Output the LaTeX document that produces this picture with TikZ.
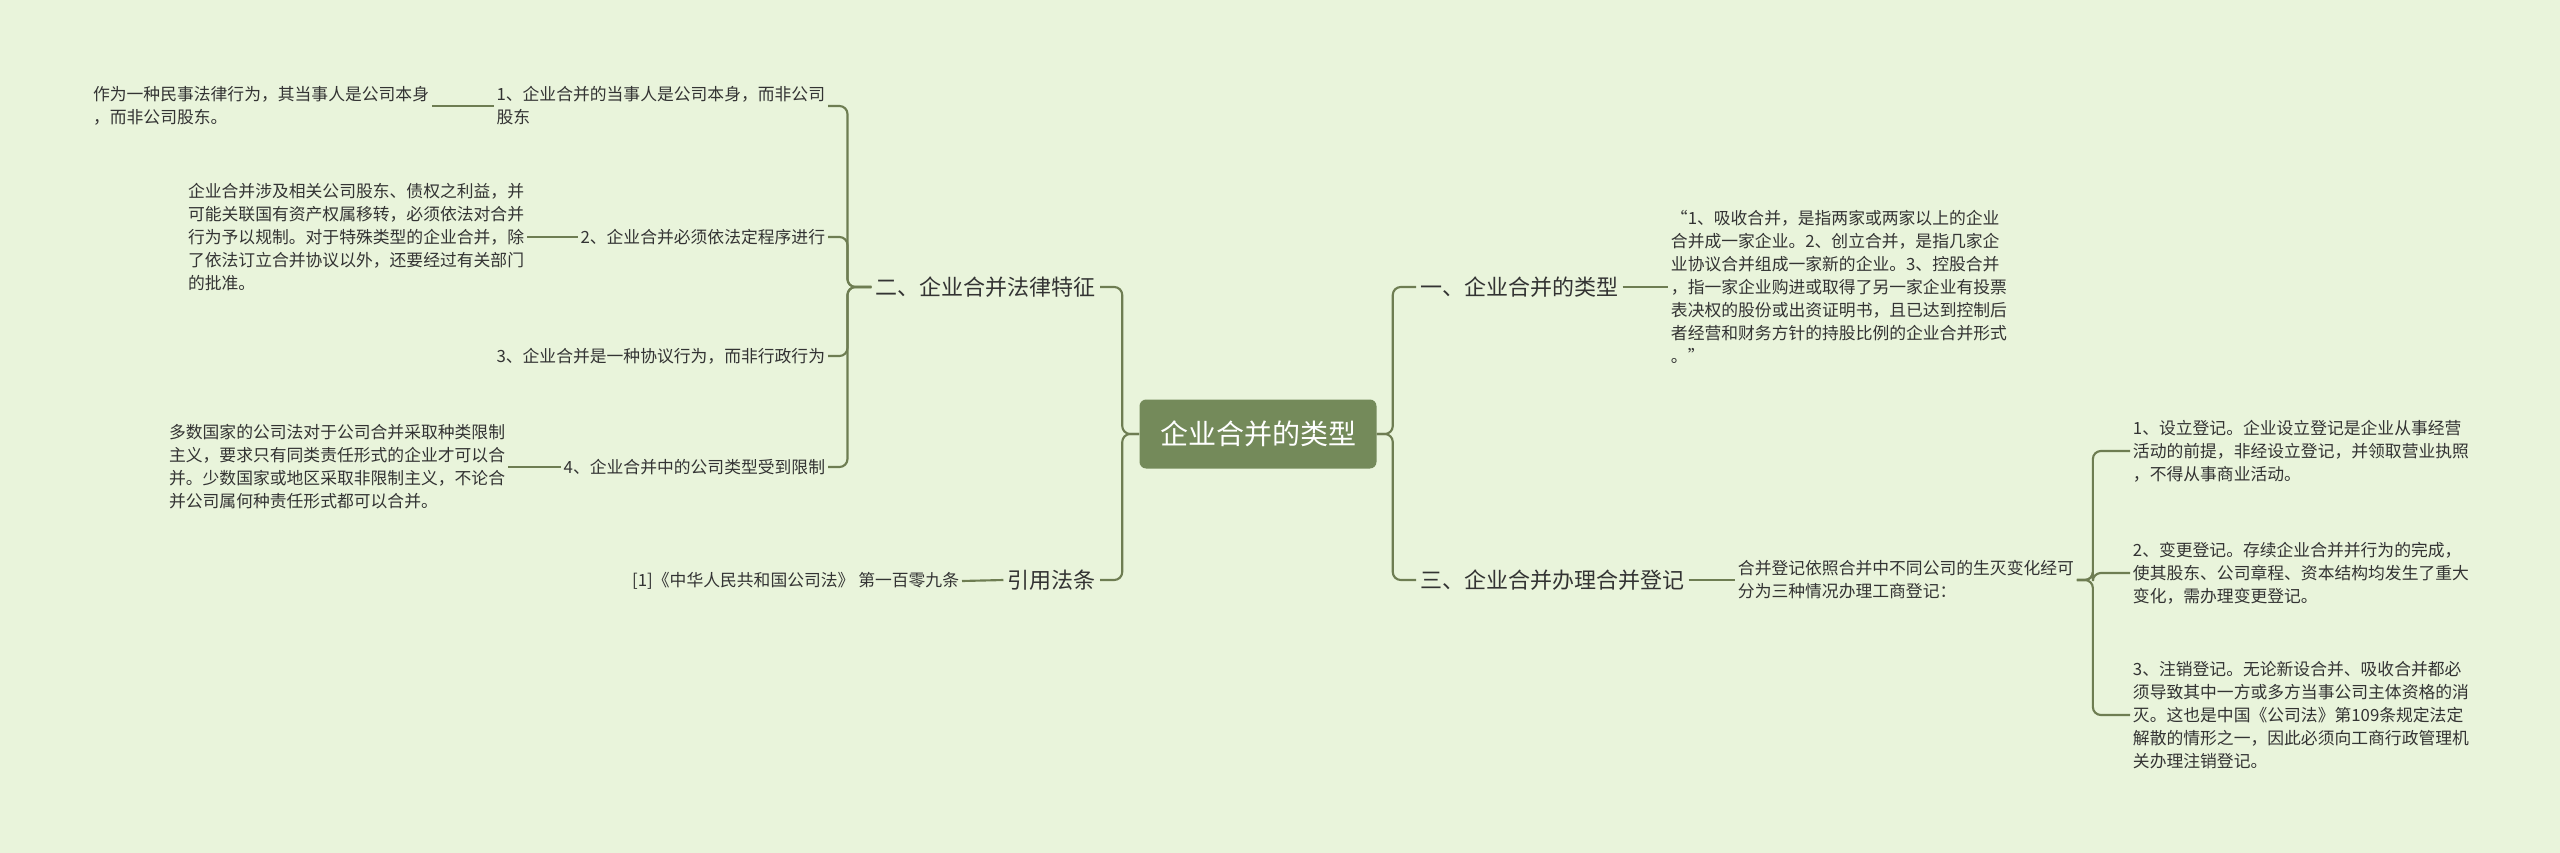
\documentclass[tikz,border=0pt]{standalone}
\usepackage{fontspec}
\setmainfont{Noto Sans CJK SC}
\definecolor{bgc}{HTML}{E9F4DB}
\definecolor{linec}{HTML}{6E7D52}
\definecolor{rootc}{HTML}{748A5A}
\definecolor{txtc}{HTML}{333333}
\tikzset{
  link/.style={draw=linec, line width=1.6pt, rounded corners=6pt},
  leaf/.style={text=txtc, font=\fontsize{12.6}{17.3}\selectfont, align=left, inner sep=2pt},
  branch/.style={text=txtc, font=\fontsize{16.5}{20}\selectfont, inner sep=3pt},
  root/.style={fill=rootc, text=white, rounded corners=5pt, font=\fontsize{21}{25}\selectfont,
    minimum width=237*0.75pt, minimum height=69*0.75pt}
}
\begin{document}
\begin{tikzpicture}[x=0.75pt, y=-0.75pt]
\fill[bgc] (0,0) rectangle (2560,853);
\useasboundingbox (0,0) rectangle (2560,853);

% root and main branches
\node[root] (root) at (1258,434) {企业合并的类型};
\node[branch, anchor=east] (legal) at (1100,287) {二、企业合并法律特征};
\node[branch, anchor=east] (cite) at (1100,580) {引用法条};
\node[branch, anchor=west] (kinds) at (1416,287) {一、企业合并的类型};
\node[branch, anchor=west] (reg) at (1416,580) {三、企业合并办理合并登记};

\draw[link] (root.west) -- ++(-17,0) |- (legal.east);
\draw[link] (root.west) -- ++(-17,0) |- (cite.east);
\draw[link] (root.east) -- ++(16,0) |- (kinds.west);
\draw[link] (root.east) -- ++(16,0) |- (reg.west);

% legal features
\node[leaf, anchor=east] (f1) at (828,106) {1、企业合并的当事人是公司本身，而非公司\\股东};
\node[leaf, anchor=east] (f2) at (828,237) {2、企业合并必须依法定程序进行};
\node[leaf, anchor=east] (f3) at (828,356) {3、企业合并是一种协议行为，而非行政行为};
\node[leaf, anchor=east] (f4) at (828,467) {4、企业合并中的公司类型受到限制};
\foreach \f in {f1,f2,f3,f4}
  \draw[link] (legal.west) -- ++(-24,0) |- (\f.east);

\node[leaf, anchor=east] (d1) at (432,106) {作为一种民事法律行为，其当事人是公司本身\\，而非公司股东。};
\node[leaf, anchor=east] (d2) at (527,237) {企业合并涉及相关公司股东、债权之利益，并\\可能关联国有资产权属移转，必须依法对合并\\行为予以规制。对于特殊类型的企业合并，除\\了依法订立合并协议以外，还要经过有关部门\\的批准。};
\node[leaf, anchor=east] (d4) at (508,467) {多数国家的公司法对于公司合并采取种类限制\\主义，要求只有同类责任形式的企业才可以合\\并。少数国家或地区采取非限制主义，不论合\\并公司属何种责任形式都可以合并。};
\draw[link] (f1.west) -- (d1.east);
\draw[link] (f2.west) -- (d2.east);
\draw[link] (f4.west) -- (d4.east);

% citation
\node[leaf, anchor=east] (law) at (962,581) {[1]《中华人民共和国公司法》 第一百零九条};
\draw[link] (cite.west) -- (law.east);

% kinds
\node[leaf, anchor=west] (kdesc) at (1668,287) {“1、吸收合并，是指两家或两家以上的企业\\合并成一家企业。2、创立合并，是指几家企\\业协议合并组成一家新的企业。3、控股合并\\，指一家企业购进或取得了另一家企业有投票\\表决权的股份或出资证明书，且已达到控制后\\者经营和财务方针的持股比例的企业合并形式\\。”};
\draw[link] (kinds.east) -- (kdesc.west);

% registration
\node[leaf, anchor=west] (rdesc) at (1735,580) {合并登记依照合并中不同公司的生灭变化经可\\分为三种情况办理工商登记：};
\draw[link] (reg.east) -- (rdesc.west);
\node[leaf, anchor=west] (r1) at (2130,451) {1、设立登记。企业设立登记是企业从事经营\\活动的前提，非经设立登记，并领取营业执照\\，不得从事商业活动。};
\node[leaf, anchor=west] (r2) at (2130,573) {2、变更登记。存续企业合并并行为的完成，\\使其股东、公司章程、资本结构均发生了重大\\变化，需办理变更登记。};
\node[leaf, anchor=west] (r3) at (2130,715) {3、注销登记。无论新设合并、吸收合并都必\\须导致其中一方或多方当事公司主体资格的消\\灭。这也是中国《公司法》第109条规定法定\\解散的情形之一，因此必须向工商行政管理机\\关办理注销登记。};
\foreach \r in {r1,r2,r3}
  \draw[link] (rdesc.east) -- ++(16,0) |- (\r.west);
\end{tikzpicture}
\end{document}
